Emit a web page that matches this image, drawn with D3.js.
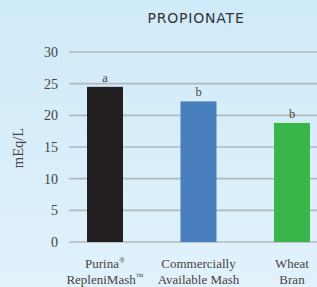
<!DOCTYPE html>
<html>
<head>
<meta charset="utf-8">
<script src="https://cdn.jsdelivr.net/npm/d3@7"></script>
<style>
  html, body { margin: 0; padding: 0; overflow: hidden; }
  svg { display: block; }
</style>
</head>
<body>
<div id="chart"></div>
<script>
// Data.
const categories = ["Purina® RepleniMash™", "Commercially Available Mash", "Wheat Bran"];
// label lines: [text, superscript]
const labelLines = [[["Purina", "®"], ["RepleniMash", "™"]], [["Commercially", ""], ["Available Mash", ""]], [["Wheat", ""], ["Bran", ""]]];
const values = [24.5, 22.2, 18.8];
const letters = ["a", "b", "b"];
const ticks = [0, 5, 10, 15, 20, 25, 30];
const barColors = ["#231f20", "#4a7fbd", "#39b54a"];

const width = 317, height = 287;
const svg = d3.select("#chart").append("svg").attr("width", width).attr("height", height);

// Light blue gradient background.
const grad = svg.append("defs").append("linearGradient")
  .attr("id", "bg").attr("x1", 0).attr("y1", 0).attr("x2", 0).attr("y2", 1);
grad.append("stop").attr("offset", "0%").attr("stop-color", "#cfeaf9");
grad.append("stop").attr("offset", "100%").attr("stop-color", "#e1f2fb");
svg.append("rect").attr("width", width).attr("height", height).attr("fill", "url(#bg)");

const y = d3.scaleLinear().domain([0, 30]).range([242, 52]);
const x = d3.scaleBand().domain(categories).range([69, 328])
  .paddingInner(0.615).paddingOuter(0.1925);

// Gridlines
svg.append("g").selectAll("line").data(ticks).join("line")
  .attr("x1", 69).attr("x2", width)
  .attr("y1", d => y(d)).attr("y2", d => y(d))
  .attr("stroke", "#b3b8bc").attr("stroke-width", 1.6);

// Tick labels
svg.append("g").selectAll("text").data(ticks).join("text")
  .attr("x", 58).attr("y", d => y(d)).attr("dy", "0.35em")
  .attr("text-anchor", "end")
  .attr("font-family", "Liberation Serif, serif").attr("font-size", 14)
  .attr("fill", "#444").text(d => d);

// Y axis title
svg.append("text")
  .attr("transform", "translate(23,148) rotate(-90)")
  .attr("text-anchor", "middle")
  .attr("font-family", "Liberation Serif, serif").attr("font-size", 14.5)
  .attr("fill", "#444").text("mEq/L");

// Bars
svg.append("g").selectAll("rect").data(values).join("rect")
  .attr("x", (d, i) => x(categories[i]))
  .attr("width", x.bandwidth())
  .attr("y", d => y(d))
  .attr("height", d => y(0) - y(d))
  .attr("fill", (d, i) => barColors[i]);

// Significance letters
svg.append("g").selectAll("text").data(values).join("text")
  .attr("x", (d, i) => x(categories[i]) + x.bandwidth() / 2)
  .attr("y", d => y(d) - 5)
  .attr("text-anchor", "middle")
  .attr("font-family", "Liberation Serif, serif").attr("font-size", 12.5)
  .attr("fill", "#444").text((d, i) => letters[i]);

// Category labels
svg.append("g").selectAll("g").data(categories).join("g")
  .each(function (d, i) {
    const cx = x(d) + x.bandwidth() / 2;
    labelLines[i].forEach((line, j) => {
      const t = d3.select(this).append("text")
        .attr("x", cx).attr("y", 268 + j * 16)
        .attr("text-anchor", "middle")
        .attr("font-family", "Liberation Serif, serif").attr("font-size", 13)
        .attr("fill", "#444");
      t.append("tspan").text(line[0]);
      if (line[1]) {
        t.append("tspan").attr("font-size", 8).attr("dy", -5).text(line[1]);
      }
    });
  });

// Title
svg.append("text")
  .attr("x", 196).attr("y", 23)
  .attr("text-anchor", "middle")
  .attr("font-family", "DejaVu Sans, sans-serif").attr("font-size", 14)
  .attr("letter-spacing", 0.8)
  .attr("fill", "#333").text("PROPIONATE");
</script>
</body>
</html>
